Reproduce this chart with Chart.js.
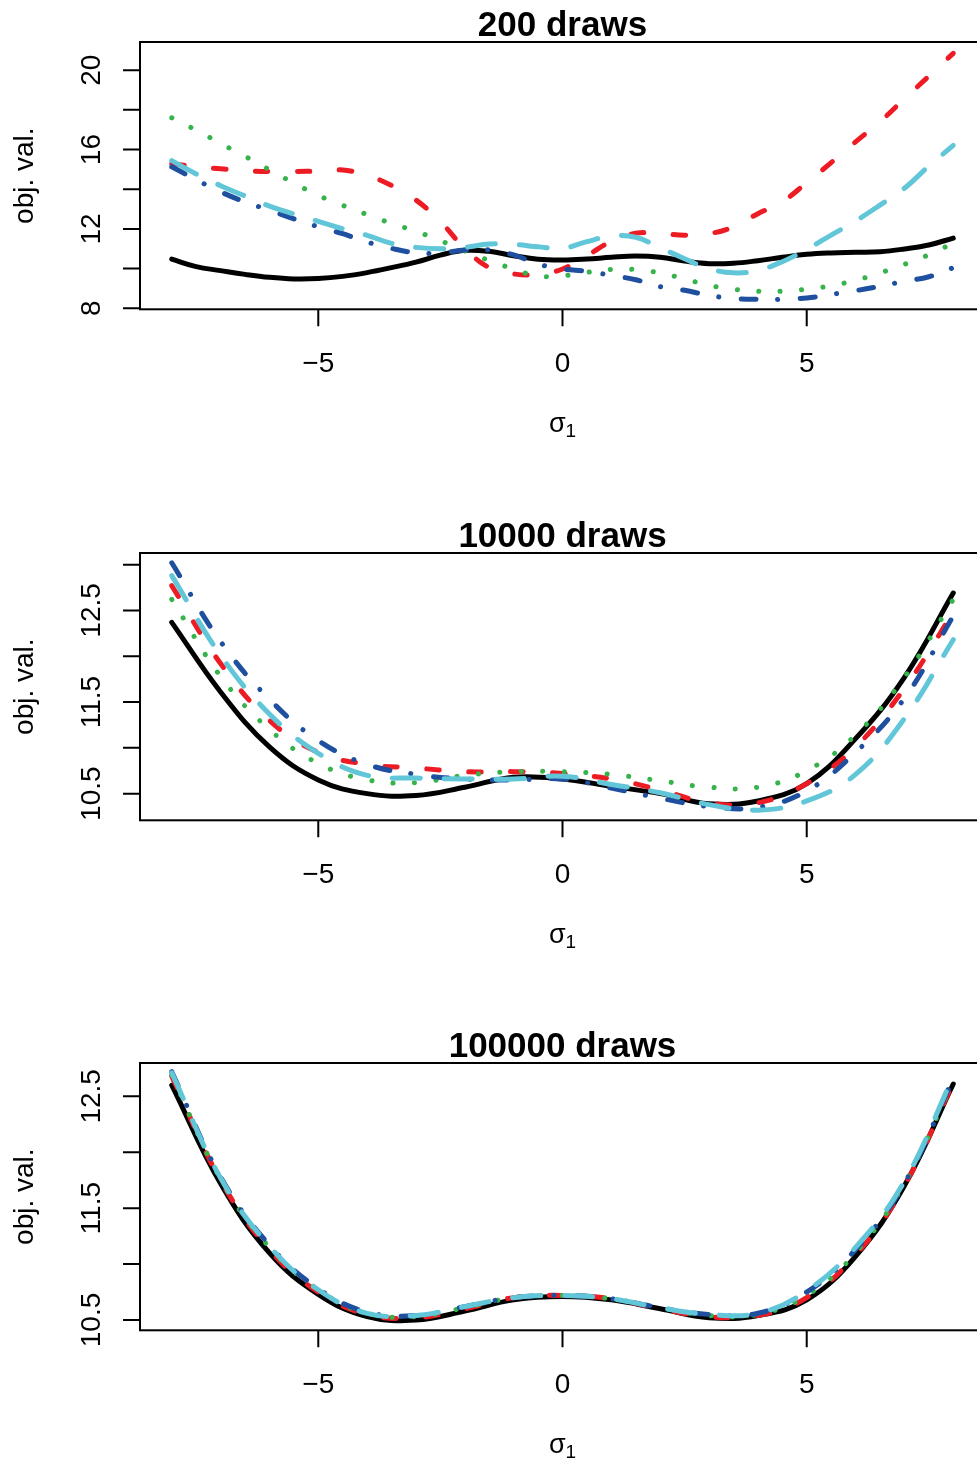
<!DOCTYPE html>
<html><head><meta charset="utf-8">
<script src="https://cdn.jsdelivr.net/npm/chart.js@4.4.1/dist/chart.umd.min.js"></script>
<style>
html,body{margin:0;padding:0;overflow:hidden;background:#fff;width:977px;height:1463px;position:relative;}
canvas{position:absolute;left:0;}
</style></head><body>
<canvas id="c1" width="1000" height="511" style="top:0px"></canvas>
<canvas id="c2" width="1000" height="511" style="top:511px"></canvas>
<canvas id="c3" width="1000" height="511" style="top:1021px"></canvas>
<script>
// ---------- data ----------
const panelTitles = ['200 draws', '10000 draws', '100000 draws'];
const xTickValues = [-5, 0, 5];
const xTickLabels = ['\u22125', '0', '5'];

const yTicks200 = [8, 10, 12, 14, 16, 18, 20];
const yLabels200 = ['8', '', '12', '', '16', '', '20'];
const yTicks10000 = [10.5, 11, 11.5, 12, 12.5, 13];
const yLabels10000 = ['10.5', '', '11.5', '', '12.5', ''];
const yTicks100000 = [10.5, 11, 11.5, 12, 12.5];
const yLabels100000 = ['10.5', '', '11.5', '', '12.5'];

// panel 1: sigma_1 grid in steps of 0.5
const xs200 = [-8,-7.5,-7,-6.5,-6,-5.5,-5,-4.5,-4,-3.5,-3,-2.5,-2,-1.5,-1,-0.5,0,0.5,1,1.5,2,2.5,3,3.5,4,4.5,5,5.5,6,6.5,7,7.5,8];
const black200 = [10.48,10.10,9.90,9.71,9.56,9.48,9.50,9.61,9.80,10.05,10.33,10.68,10.92,10.87,10.65,10.47,10.43,10.48,10.57,10.63,10.57,10.38,10.25,10.27,10.40,10.57,10.72,10.79,10.82,10.85,10.99,11.19,11.54];
const red200   = [15.29,15.13,15.03,14.94,14.89,14.89,14.92,14.97,14.70,14.19,13.46,12.37,11.02,10.05,9.73,9.71,9.98,10.65,11.38,11.78,11.78,11.68,11.76,12.11,12.77,13.37,14.33,15.34,16.39,17.40,18.56,19.70,20.85];
const green200 = [17.60,16.98,16.31,15.66,14.98,14.31,13.69,13.19,12.72,12.28,11.88,11.41,10.89,10.40,9.98,9.62,9.64,9.81,9.96,9.95,9.78,9.48,9.16,8.96,8.86,8.86,8.96,9.14,9.41,9.78,10.22,10.70,11.29];
const blue200  = [15.13,14.48,13.87,13.36,12.95,12.51,12.11,11.76,11.34,11.02,10.80,10.78,10.94,10.94,10.69,10.23,9.98,9.86,9.66,9.44,9.09,8.91,8.65,8.50,8.45,8.45,8.52,8.70,8.89,9.11,9.36,9.59,10.05];
const cyan200  = [15.44,14.77,14.18,13.66,13.15,12.75,12.38,12.01,11.68,11.27,11.07,11.00,11.07,11.24,11.22,11.10,11.02,11.36,11.64,11.58,11.05,10.50,10.00,9.79,9.91,10.35,10.97,11.69,12.40,13.20,14.05,15.17,16.21];

// panels 2 and 3: sigma_1 grid in steps of 1
const xsUnit = [-8,-7,-6,-5,-4,-3,-2,-1,0,1,2,3,4,5,6,7,8];
const black10000 = [12.37,11.61,11.01,10.65,10.50,10.48,10.57,10.68,10.66,10.58,10.50,10.39,10.42,10.61,11.10,11.77,12.69];
const red10000   = [12.77,11.92,11.30,10.95,10.82,10.78,10.74,10.74,10.72,10.66,10.54,10.40,10.40,10.61,11.01,11.65,12.48];
const green10000 = [12.62,11.78,11.20,10.83,10.65,10.62,10.70,10.74,10.74,10.71,10.64,10.57,10.57,10.75,11.14,11.77,12.62];
const blue10000  = [13.02,12.16,11.53,11.08,10.82,10.71,10.66,10.65,10.66,10.56,10.45,10.36,10.35,10.53,10.95,11.54,12.44];
const cyan10000  = [12.88,12.01,11.37,10.94,10.70,10.67,10.66,10.66,10.69,10.60,10.51,10.38,10.32,10.42,10.71,11.32,12.18];

const black100000 = [12.60,11.72,11.10,10.73,10.53,10.50,10.58,10.68,10.71,10.68,10.60,10.52,10.54,10.68,11.07,11.70,12.61];
const red100000   = [12.68,11.75,11.13,10.75,10.55,10.52,10.60,10.70,10.72,10.69,10.60,10.53,10.54,10.70,11.08,11.70,12.62];
const green100000 = [12.69,11.76,11.15,10.77,10.56,10.53,10.61,10.70,10.72,10.69,10.61,10.54,10.55,10.72,11.10,11.72,12.64];
const blue100000  = [12.72,11.78,11.17,10.78,10.57,10.54,10.62,10.70,10.72,10.69,10.61,10.55,10.56,10.75,11.13,11.72,12.66];
const cyan100000  = [12.71,11.77,11.16,10.77,10.56,10.54,10.62,10.70,10.72,10.69,10.61,10.55,10.56,10.76,11.15,11.74,12.68];

// ---------- styles ----------
const seriesStyles = [
  {color: '#000000', dash: [],                 order: 5},
  {color: '#ED1C24', dash: [12.5, 29.5],       order: 4},
  {color: '#36B34A', dash: [0.1, 21.4],        order: 3},
  {color: '#1F4F9F', dash: [15, 21.5, 0.1, 22.5], order: 2},
  {color: '#62C6D9', dash: [28, 24],           order: 1}
];
const FONT = '"Liberation Sans", Arial, Helvetica, sans-serif';
const AREA = {left: 140, top: 42, right: 985, bottom: 309.3};

const framePlugin = {
  id: 'frame',
  afterDraw(chart) {
    const o = chart.options.plugins.frame;
    const ctx = chart.ctx, a = chart.chartArea;
    const xs = chart.scales.x, ys = chart.scales.y;
    ctx.save();
    ctx.strokeStyle = '#000'; ctx.lineWidth = 2; ctx.lineCap = 'butt'; ctx.setLineDash([]);
    ctx.strokeRect(a.left, a.top, a.right - a.left, a.bottom - a.top);
    ctx.beginPath();
    o.yTicks.forEach(v => { const p = ys.getPixelForValue(v); ctx.moveTo(a.left - 17, p); ctx.lineTo(a.left, p); });
    xTickValues.forEach(v => { const p = xs.getPixelForValue(v); ctx.moveTo(p, a.bottom); ctx.lineTo(p, a.bottom + 17); });
    ctx.stroke();
    ctx.fillStyle = '#000';
    // x tick labels
    ctx.font = '28px ' + FONT; ctx.textAlign = 'center'; ctx.textBaseline = 'alphabetic';
    xTickValues.forEach((v, i) => ctx.fillText(xTickLabels[i], xs.getPixelForValue(v), a.bottom + 62.4));
    // y tick labels (rotated)
    o.yTicks.forEach((v, i) => {
      if (!o.yLabels[i]) return;
      ctx.save(); ctx.translate(100, ys.getPixelForValue(v)); ctx.rotate(-Math.PI / 2);
      ctx.fillText(o.yLabels[i], 0, 0); ctx.restore();
    });
    // y axis title
    ctx.save(); ctx.translate(33, (a.top + a.bottom) / 2); ctx.rotate(-Math.PI / 2);
    ctx.fillText('obj. val.', 0, 0); ctx.restore();
    // x axis title sigma_1
    ctx.font = '27px ' + FONT; const w1 = ctx.measureText('\u03C3').width;
    ctx.font = '19px ' + FONT; const w2 = ctx.measureText('1').width;
    const cx = (a.left + a.right) / 2, sx = cx - (w1 + w2) / 2;
    ctx.textAlign = 'left';
    ctx.font = '27px ' + FONT; ctx.fillText('\u03C3', sx, a.bottom + 122.4);
    ctx.font = '19px ' + FONT; ctx.fillText('1', sx + w1, a.bottom + 128);
    // title
    ctx.textAlign = 'center';
    ctx.font = 'bold 35px ' + FONT;
    ctx.fillText(o.title, cx, a.top - 6);
    ctx.restore();
  }
};

function makeChart(id, xs, series, yMin, yMax, yTicks, yLabels, title) {
  const cv = document.getElementById(id);
  return new Chart(cv, {
    type: 'line',
    data: {
      datasets: series.map((vals, i) => ({
        data: xs.map((x, j) => ({x: x, y: vals[j]})),
        borderColor: seriesStyles[i].color,
        borderWidth: 5,
        borderDash: seriesStyles[i].dash,
        borderCapStyle: 'round',
        borderJoinStyle: 'round',
        pointRadius: 0,
        tension: 0.4,
        fill: false,
        order: seriesStyles[i].order
      }))
    },
    options: {
      responsive: false, animation: false, events: [],
      layout: {padding: {left: AREA.left, top: AREA.top, right: cv.width - AREA.right, bottom: cv.height - AREA.bottom}},
      plugins: {legend: {display: false}, tooltip: {enabled: false}, title: {display: false},
        frame: {yTicks: yTicks, yLabels: yLabels, title: title}},
      scales: {
        x: {type: 'linear', display: false, min: -8.65, max: 8.65},
        y: {type: 'linear', display: false, min: yMin, max: yMax}
      }
    },
    plugins: [framePlugin]
  });
}

makeChart('c1', xs200, [black200, red200, green200, blue200, cyan200], 7.95, 21.42, yTicks200, yLabels200, panelTitles[0]);
makeChart('c2', xsUnit, [black10000, red10000, green10000, blue10000, cyan10000], 10.209, 13.127, yTicks10000, yLabels10000, panelTitles[1]);
makeChart('c3', xsUnit, [black100000, red100000, green100000, blue100000, cyan100000], 10.408, 12.798, yTicks100000, yLabels100000, panelTitles[2]);
</script>
</body></html>
